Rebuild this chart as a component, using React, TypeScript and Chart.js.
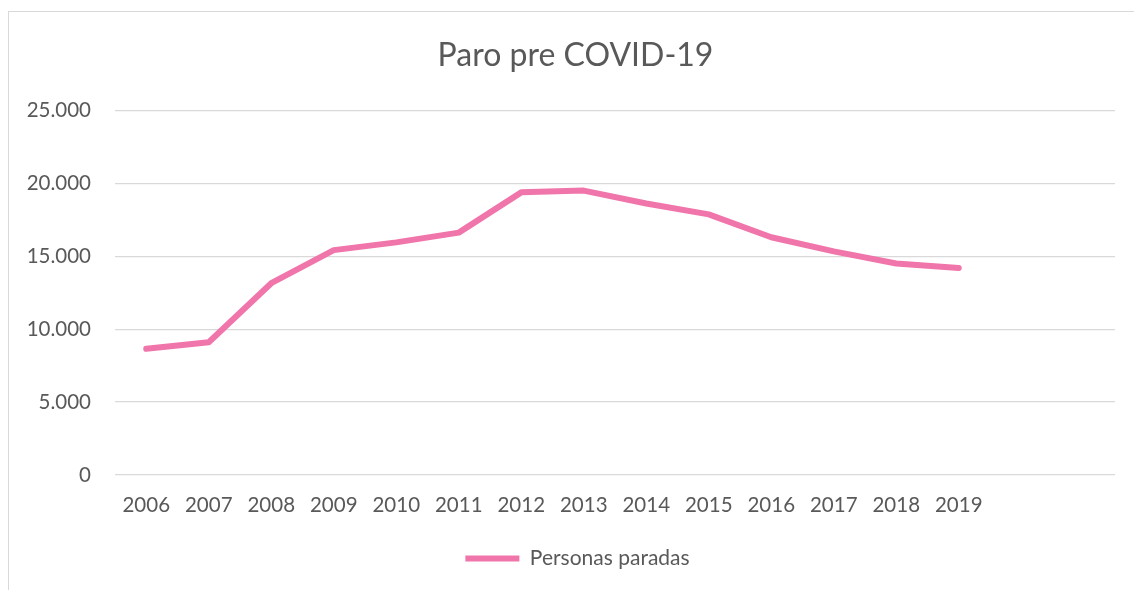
import React, { useEffect, useRef } from "react";
import { Chart, registerables } from "chart.js";

Chart.register(...registerables);

const categories: string[] = [
  "2006", "2007", "2008", "2009", "2010", "2011", "2012",
  "2013", "2014", "2015", "2016", "2017", "2018", "2019", "", "",
];
const personasParadas: (number | null)[] = [
  8650, 9100, 13150, 15420, 15950, 16620, 19380,
  19500, 18620, 17870, 16300, 15330, 14500, 14190, null, null,
];
const seriesLabel = "Personas paradas";
const chartTitle = "Paro pre COVID-19";
const yTicks = { min: 0, max: 25000, step: 5000 };

const LINE = "#F075AA";
const TEXT = "#595959";
const GRID = "#D9D9D9";
const FONT = "Lato, 'Open Sans', sans-serif";

function fmt(v: number): string {
  return String(Math.round(v)).replace(/\B(?=(\d{3})+(?!\d))/g, ".");
}

// Excel centres title and legend over the whole chart frame (which starts at x=8
// and runs past the right edge), not over the canvas; nudge those two boxes.
const centreOnFrame = {
  id: "centreOnFrame",
  afterLayout(chart: any) {
    const t = chart.titleBlock;
    if (t) {
      t.left += 18;
      t.right += 18;
    }
    const l = chart.legend;
    if (l) {
      l.left += 20;
      l.right += 20;
    }
  },
};

export default function App() {
  const ref = useRef<HTMLCanvasElement | null>(null);

  useEffect(() => {
    if (!ref.current) return;
    const chart = new Chart(ref.current, {
      type: "line",
      data: {
        labels: categories,
        datasets: [
          {
            label: seriesLabel,
            data: personasParadas,
            borderColor: LINE,
            backgroundColor: LINE,
            borderWidth: 6,
            borderCapStyle: "round",
            borderJoinStyle: "round",
            pointRadius: 0,
            tension: 0,
            fill: false,
          },
        ],
      },
      plugins: [centreOnFrame],
      options: {
        responsive: false,
        animation: false,
        layout: { padding: { left: 0, right: 19, top: 0, bottom: 11 } },
        plugins: {
          title: {
            display: true,
            text: chartTitle,
            color: TEXT,
            font: { family: FONT, size: 32, weight: "normal" },
            padding: { top: 36, bottom: 36 },
          },
          legend: {
            display: true,
            position: "bottom",
            labels: {
              color: TEXT,
              font: { family: FONT, size: 21 },
              boxWidth: 54,
              boxHeight: 6,
              padding: 10,
              generateLabels: () => [
                {
                  text: seriesLabel,
                  fillStyle: LINE,
                  strokeStyle: LINE,
                  lineWidth: 0,
                  hidden: false,
                  datasetIndex: 0,
                  fontColor: TEXT,
                } as any,
              ],
            },
          },
          tooltip: { enabled: false },
        },
        scales: {
          x: {
            offset: true,
            grid: { display: false, drawTicks: false },
            border: { display: false },
            ticks: {
              color: TEXT,
              font: { family: FONT, size: 20.5 },
              padding: 18,
              maxRotation: 0,
              autoSkip: false,
            },
            afterFit: (scale: any) => {
              scale.height = 63;
            },
          },
          y: {
            min: yTicks.min,
            max: yTicks.max,
            grid: { color: GRID, lineWidth: 1.3, drawTicks: false },
            border: { display: false },
            ticks: {
              stepSize: yTicks.step,
              color: TEXT,
              font: { family: FONT, size: 20.5 },
              padding: 24,
              callback: (v: any) => fmt(Number(v)),
            },
            afterFit: (scale: any) => {
              scale.width = 115;
            },
          },
        },
      },
    });
    return () => chart.destroy();
  }, []);

  return (
    <div style={{ position: "absolute", left: 0, top: 0, width: 1134, height: 590, overflow: "hidden", background: "#fff" }}>
      <div
        style={{
          position: "absolute",
          left: 8,
          top: 11,
          width: 1140,
          height: 600,
          border: "1px solid #D9D9D9",
          boxSizing: "border-box",
        }}
      />
      <canvas
        ref={ref}
        width={1134}
        height={590}
        style={{ position: "absolute", left: 0, top: 0, width: 1134, height: 590 }}
      />
    </div>
  );
}
